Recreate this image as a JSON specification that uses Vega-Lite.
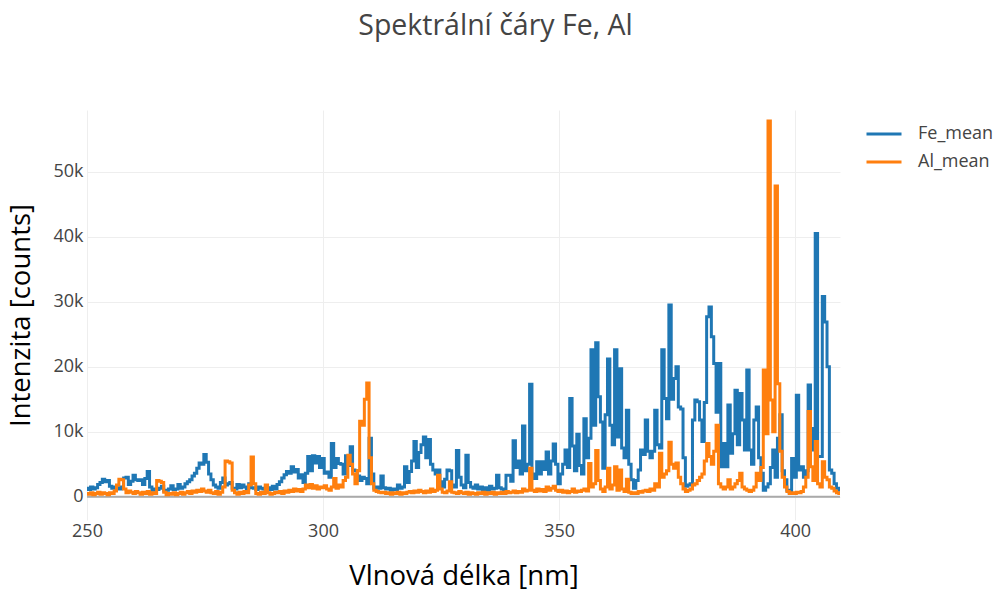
{
  "$schema": "https://vega.github.io/schema/vega-lite/v6.json",
  "autosize": {"type": "none"},
  "width": 753,
  "height": 410,
  "padding": {"left": 87, "top": 110, "right": 158, "bottom": 72},
  "background": "white",
  "title": {"text": "Spektrální čáry Fe, Al", "fontSize": 28.5, "fontWeight": "normal", "color": "#444444", "font": "Open Sans", "anchor": "middle", "frame": "group", "offset": 70, "dx": 32},
  "data": {"values": [
    {"w":250,"Fe_mean":1300,"Al_mean":500},{"w":250.5,"Fe_mean":1100,"Al_mean":400},{"w":251,"Fe_mean":1500,"Al_mean":600},{"w":251.5,"Fe_mean":1200,"Al_mean":300},
    {"w":252,"Fe_mean":1400,"Al_mean":500},{"w":252.5,"Fe_mean":1900,"Al_mean":700},{"w":253,"Fe_mean":2200,"Al_mean":400},{"w":253.5,"Fe_mean":2700,"Al_mean":600},
    {"w":254,"Fe_mean":2300,"Al_mean":500},{"w":254.5,"Fe_mean":2500,"Al_mean":300},{"w":255,"Fe_mean":1600,"Al_mean":600},{"w":255.5,"Fe_mean":1300,"Al_mean":500},
    {"w":256,"Fe_mean":1500,"Al_mean":900},{"w":256.5,"Fe_mean":1400,"Al_mean":1800},{"w":257,"Fe_mean":1200,"Al_mean":2700},{"w":257.5,"Fe_mean":1500,"Al_mean":2600},
    {"w":258,"Fe_mean":2900,"Al_mean":1200},{"w":258.5,"Fe_mean":3000,"Al_mean":600},{"w":259,"Fe_mean":1900,"Al_mean":900},{"w":259.5,"Fe_mean":2400,"Al_mean":700},
    {"w":260,"Fe_mean":3300,"Al_mean":500},{"w":260.5,"Fe_mean":2600,"Al_mean":800},{"w":261,"Fe_mean":2500,"Al_mean":600},{"w":261.5,"Fe_mean":2600,"Al_mean":400},
    {"w":262,"Fe_mean":1900,"Al_mean":700},{"w":262.5,"Fe_mean":2800,"Al_mean":500},{"w":263,"Fe_mean":3900,"Al_mean":800},{"w":263.5,"Fe_mean":1500,"Al_mean":400},
    {"w":264,"Fe_mean":1000,"Al_mean":600},{"w":264.5,"Fe_mean":1200,"Al_mean":500},{"w":265,"Fe_mean":1100,"Al_mean":2500},{"w":265.5,"Fe_mean":1300,"Al_mean":2400},
    {"w":266,"Fe_mean":1600,"Al_mean":2200},{"w":266.5,"Fe_mean":900,"Al_mean":700},{"w":267,"Fe_mean":1000,"Al_mean":300},{"w":267.5,"Fe_mean":1200,"Al_mean":500},
    {"w":268,"Fe_mean":1700,"Al_mean":400},{"w":268.5,"Fe_mean":1100,"Al_mean":600},{"w":269,"Fe_mean":1200,"Al_mean":300},{"w":269.5,"Fe_mean":1900,"Al_mean":500},
    {"w":270,"Fe_mean":1300,"Al_mean":700},{"w":270.5,"Fe_mean":1500,"Al_mean":400},{"w":271,"Fe_mean":2000,"Al_mean":600},{"w":271.5,"Fe_mean":2300,"Al_mean":800},
    {"w":272,"Fe_mean":2600,"Al_mean":500},{"w":272.5,"Fe_mean":3200,"Al_mean":900},{"w":273,"Fe_mean":3600,"Al_mean":700},{"w":273.5,"Fe_mean":4400,"Al_mean":1000},
    {"w":274,"Fe_mean":5200,"Al_mean":800},{"w":274.5,"Fe_mean":5000,"Al_mean":1200},{"w":275,"Fe_mean":6500,"Al_mean":900},{"w":275.5,"Fe_mean":5300,"Al_mean":700},
    {"w":276,"Fe_mean":3500,"Al_mean":1000},{"w":276.5,"Fe_mean":2600,"Al_mean":600},{"w":277,"Fe_mean":1800,"Al_mean":500},{"w":277.5,"Fe_mean":1500,"Al_mean":800},
    {"w":278,"Fe_mean":1300,"Al_mean":400},{"w":278.5,"Fe_mean":2200,"Al_mean":700},{"w":279,"Fe_mean":2900,"Al_mean":1500},{"w":279.5,"Fe_mean":1800,"Al_mean":5500},
    {"w":280,"Fe_mean":2000,"Al_mean":5400},{"w":280.5,"Fe_mean":2200,"Al_mean":5200},{"w":281,"Fe_mean":1300,"Al_mean":1000},{"w":281.5,"Fe_mean":1200,"Al_mean":600},
    {"w":282,"Fe_mean":1900,"Al_mean":400},{"w":282.5,"Fe_mean":1400,"Al_mean":700},{"w":283,"Fe_mean":1800,"Al_mean":500},{"w":283.5,"Fe_mean":1500,"Al_mean":800},
    {"w":284,"Fe_mean":1200,"Al_mean":600},{"w":284.5,"Fe_mean":2000,"Al_mean":1800},{"w":285,"Fe_mean":1400,"Al_mean":6100},{"w":285.5,"Fe_mean":1300,"Al_mean":2000},
    {"w":286,"Fe_mean":1100,"Al_mean":500},{"w":286.5,"Fe_mean":1500,"Al_mean":400},{"w":287,"Fe_mean":1300,"Al_mean":700},{"w":287.5,"Fe_mean":1200,"Al_mean":500},
    {"w":288,"Fe_mean":1000,"Al_mean":1800},{"w":288.5,"Fe_mean":1400,"Al_mean":600},{"w":289,"Fe_mean":1100,"Al_mean":400},{"w":289.5,"Fe_mean":1600,"Al_mean":500},
    {"w":290,"Fe_mean":1200,"Al_mean":700},{"w":290.5,"Fe_mean":1900,"Al_mean":600},{"w":291,"Fe_mean":2300,"Al_mean":800},{"w":291.5,"Fe_mean":2900,"Al_mean":500},
    {"w":292,"Fe_mean":3400,"Al_mean":900},{"w":292.5,"Fe_mean":3900,"Al_mean":700},{"w":293,"Fe_mean":3600,"Al_mean":1000},{"w":293.5,"Fe_mean":4600,"Al_mean":800},
    {"w":294,"Fe_mean":3800,"Al_mean":1200},{"w":294.5,"Fe_mean":4200,"Al_mean":900},{"w":295,"Fe_mean":2900,"Al_mean":1100},{"w":295.5,"Fe_mean":3400,"Al_mean":800},
    {"w":296,"Fe_mean":2200,"Al_mean":1200},{"w":296.5,"Fe_mean":3600,"Al_mean":1800},{"w":297,"Fe_mean":6200,"Al_mean":1400},{"w":297.5,"Fe_mean":4000,"Al_mean":1900},
    {"w":298,"Fe_mean":6300,"Al_mean":1300},{"w":298.5,"Fe_mean":5200,"Al_mean":1700},{"w":299,"Fe_mean":6200,"Al_mean":1200},{"w":299.5,"Fe_mean":4500,"Al_mean":1500},
    {"w":300,"Fe_mean":5900,"Al_mean":1400},{"w":300.5,"Fe_mean":3600,"Al_mean":1700},{"w":301,"Fe_mean":3800,"Al_mean":1200},{"w":301.5,"Fe_mean":3000,"Al_mean":1000},
    {"w":302,"Fe_mean":8200,"Al_mean":1500},{"w":302.5,"Fe_mean":4500,"Al_mean":2800},{"w":303,"Fe_mean":5900,"Al_mean":1300},{"w":303.5,"Fe_mean":5100,"Al_mean":1800},
    {"w":304,"Fe_mean":5000,"Al_mean":1500},{"w":304.5,"Fe_mean":3500,"Al_mean":2500},{"w":305,"Fe_mean":6300,"Al_mean":3000},{"w":305.5,"Fe_mean":4800,"Al_mean":6400},
    {"w":306,"Fe_mean":7700,"Al_mean":5000},{"w":306.5,"Fe_mean":4100,"Al_mean":3500},{"w":307,"Fe_mean":4000,"Al_mean":2000},{"w":307.5,"Fe_mean":3200,"Al_mean":4000},
    {"w":308,"Fe_mean":2500,"Al_mean":11600},{"w":308.5,"Fe_mean":3000,"Al_mean":11000},{"w":309,"Fe_mean":2800,"Al_mean":15000},{"w":309.5,"Fe_mean":2000,"Al_mean":17500},
    {"w":310,"Fe_mean":9000,"Al_mean":6000},{"w":310.5,"Fe_mean":3500,"Al_mean":2000},{"w":311,"Fe_mean":1300,"Al_mean":1000},{"w":311.5,"Fe_mean":1500,"Al_mean":800},
    {"w":312,"Fe_mean":1300,"Al_mean":700},{"w":312.5,"Fe_mean":3200,"Al_mean":600},{"w":313,"Fe_mean":1400,"Al_mean":700},{"w":313.5,"Fe_mean":1200,"Al_mean":500},
    {"w":314,"Fe_mean":1300,"Al_mean":600},{"w":314.5,"Fe_mean":1000,"Al_mean":400},{"w":315,"Fe_mean":1200,"Al_mean":600},{"w":315.5,"Fe_mean":1100,"Al_mean":500},
    {"w":316,"Fe_mean":1800,"Al_mean":700},{"w":316.5,"Fe_mean":1300,"Al_mean":400},{"w":317,"Fe_mean":1500,"Al_mean":600},{"w":317.5,"Fe_mean":4600,"Al_mean":500},
    {"w":318,"Fe_mean":2200,"Al_mean":700},{"w":318.5,"Fe_mean":3900,"Al_mean":800},{"w":319,"Fe_mean":5500,"Al_mean":600},{"w":319.5,"Fe_mean":8500,"Al_mean":900},
    {"w":320,"Fe_mean":4500,"Al_mean":700},{"w":320.5,"Fe_mean":6800,"Al_mean":1000},{"w":321,"Fe_mean":8000,"Al_mean":800},{"w":321.5,"Fe_mean":9200,"Al_mean":600},
    {"w":322,"Fe_mean":6000,"Al_mean":900},{"w":322.5,"Fe_mean":8800,"Al_mean":700},{"w":323,"Fe_mean":5000,"Al_mean":1200},{"w":323.5,"Fe_mean":4100,"Al_mean":800},
    {"w":324,"Fe_mean":3500,"Al_mean":1000},{"w":324.5,"Fe_mean":4100,"Al_mean":3300},{"w":325,"Fe_mean":2300,"Al_mean":1200},{"w":325.5,"Fe_mean":1500,"Al_mean":700},
    {"w":326,"Fe_mean":2700,"Al_mean":600},{"w":326.5,"Fe_mean":4100,"Al_mean":900},{"w":327,"Fe_mean":4000,"Al_mean":2300},{"w":327.5,"Fe_mean":1800,"Al_mean":700},
    {"w":328,"Fe_mean":1500,"Al_mean":600},{"w":328.5,"Fe_mean":7100,"Al_mean":500},{"w":329,"Fe_mean":3000,"Al_mean":800},{"w":329.5,"Fe_mean":1800,"Al_mean":600},
    {"w":330,"Fe_mean":1400,"Al_mean":500},{"w":330.5,"Fe_mean":6400,"Al_mean":700},{"w":331,"Fe_mean":2200,"Al_mean":400},{"w":331.5,"Fe_mean":1500,"Al_mean":600},
    {"w":332,"Fe_mean":1300,"Al_mean":500},{"w":332.5,"Fe_mean":1800,"Al_mean":400},{"w":333,"Fe_mean":1200,"Al_mean":600},{"w":333.5,"Fe_mean":1500,"Al_mean":500},
    {"w":334,"Fe_mean":1100,"Al_mean":700},{"w":334.5,"Fe_mean":1400,"Al_mean":400},{"w":335,"Fe_mean":1000,"Al_mean":600},{"w":335.5,"Fe_mean":1600,"Al_mean":500},
    {"w":336,"Fe_mean":1200,"Al_mean":700},{"w":336.5,"Fe_mean":1300,"Al_mean":400},{"w":337,"Fe_mean":3300,"Al_mean":600},{"w":337.5,"Fe_mean":1400,"Al_mean":500},
    {"w":338,"Fe_mean":1200,"Al_mean":700},{"w":338.5,"Fe_mean":1000,"Al_mean":500},{"w":339,"Fe_mean":3300,"Al_mean":800},{"w":339.5,"Fe_mean":3300,"Al_mean":600},
    {"w":340,"Fe_mean":2400,"Al_mean":700},{"w":340.5,"Fe_mean":8600,"Al_mean":900},{"w":341,"Fe_mean":4500,"Al_mean":600},{"w":341.5,"Fe_mean":5500,"Al_mean":800},
    {"w":342,"Fe_mean":3500,"Al_mean":700},{"w":342.5,"Fe_mean":10900,"Al_mean":1200},{"w":343,"Fe_mean":4000,"Al_mean":900},{"w":343.5,"Fe_mean":5000,"Al_mean":1000},
    {"w":344,"Fe_mean":17300,"Al_mean":4400},{"w":344.5,"Fe_mean":3500,"Al_mean":1000},{"w":345,"Fe_mean":2800,"Al_mean":800},{"w":345.5,"Fe_mean":5400,"Al_mean":1200},
    {"w":346,"Fe_mean":3500,"Al_mean":900},{"w":346.5,"Fe_mean":5400,"Al_mean":1100},{"w":347,"Fe_mean":4200,"Al_mean":800},{"w":347.5,"Fe_mean":6900,"Al_mean":1500},
    {"w":348,"Fe_mean":3500,"Al_mean":1000},{"w":348.5,"Fe_mean":5500,"Al_mean":1300},{"w":349,"Fe_mean":8100,"Al_mean":1600},{"w":349.5,"Fe_mean":5000,"Al_mean":1000},
    {"w":350,"Fe_mean":2000,"Al_mean":800},{"w":350.5,"Fe_mean":3500,"Al_mean":1000},{"w":351,"Fe_mean":5000,"Al_mean":700},{"w":351.5,"Fe_mean":7200,"Al_mean":900},
    {"w":352,"Fe_mean":4500,"Al_mean":600},{"w":352.5,"Fe_mean":15100,"Al_mean":800},{"w":353,"Fe_mean":7800,"Al_mean":1200},{"w":353.5,"Fe_mean":4000,"Al_mean":700},
    {"w":354,"Fe_mean":9600,"Al_mean":900},{"w":354.5,"Fe_mean":4800,"Al_mean":800},{"w":355,"Fe_mean":3500,"Al_mean":1000},{"w":355.5,"Fe_mean":12000,"Al_mean":1200},
    {"w":356,"Fe_mean":6000,"Al_mean":900},{"w":356.5,"Fe_mean":9000,"Al_mean":5100},{"w":357,"Fe_mean":22600,"Al_mean":1500},{"w":357.5,"Fe_mean":11000,"Al_mean":2000},
    {"w":358,"Fe_mean":23700,"Al_mean":7100},{"w":358.5,"Fe_mean":15400,"Al_mean":2500},{"w":359,"Fe_mean":11500,"Al_mean":1200},{"w":359.5,"Fe_mean":4400,"Al_mean":800},
    {"w":360,"Fe_mean":12600,"Al_mean":1500},{"w":360.5,"Fe_mean":21200,"Al_mean":4400},{"w":361,"Fe_mean":11000,"Al_mean":1200},{"w":361.5,"Fe_mean":8000,"Al_mean":1800},
    {"w":362,"Fe_mean":22600,"Al_mean":4600},{"w":362.5,"Fe_mean":9200,"Al_mean":1000},{"w":363,"Fe_mean":19700,"Al_mean":4100},{"w":363.5,"Fe_mean":7500,"Al_mean":1200},
    {"w":364,"Fe_mean":6000,"Al_mean":800},{"w":364.5,"Fe_mean":13300,"Al_mean":2700},{"w":365,"Fe_mean":5000,"Al_mean":700},{"w":365.5,"Fe_mean":2600,"Al_mean":500},
    {"w":366,"Fe_mean":1300,"Al_mean":600},{"w":366.5,"Fe_mean":2500,"Al_mean":500},{"w":367,"Fe_mean":4100,"Al_mean":800},{"w":367.5,"Fe_mean":7200,"Al_mean":700},
    {"w":368,"Fe_mean":6500,"Al_mean":900},{"w":368.5,"Fe_mean":11800,"Al_mean":1000},{"w":369,"Fe_mean":7000,"Al_mean":800},{"w":369.5,"Fe_mean":6000,"Al_mean":1200},
    {"w":370,"Fe_mean":7000,"Al_mean":1000},{"w":370.5,"Fe_mean":13300,"Al_mean":2000},{"w":371,"Fe_mean":8000,"Al_mean":1500},{"w":371.5,"Fe_mean":7500,"Al_mean":6700},
    {"w":372,"Fe_mean":22600,"Al_mean":3000},{"w":372.5,"Fe_mean":15100,"Al_mean":3500},{"w":373,"Fe_mean":12000,"Al_mean":4000},{"w":373.5,"Fe_mean":29500,"Al_mean":8400},
    {"w":374,"Fe_mean":15000,"Al_mean":5000},{"w":374.5,"Fe_mean":18200,"Al_mean":4400},{"w":375,"Fe_mean":20000,"Al_mean":5200},{"w":375.5,"Fe_mean":13800,"Al_mean":3000},
    {"w":376,"Fe_mean":13500,"Al_mean":2000},{"w":376.5,"Fe_mean":6000,"Al_mean":1200},{"w":377,"Fe_mean":1600,"Al_mean":800},{"w":377.5,"Fe_mean":1800,"Al_mean":1000},
    {"w":378,"Fe_mean":2000,"Al_mean":1200},{"w":378.5,"Fe_mean":11800,"Al_mean":1800},{"w":379,"Fe_mean":14900,"Al_mean":2000},{"w":379.5,"Fe_mean":14600,"Al_mean":2500},
    {"w":380,"Fe_mean":11800,"Al_mean":3000},{"w":380.5,"Fe_mean":8500,"Al_mean":3500},{"w":381,"Fe_mean":14500,"Al_mean":5500},{"w":381.5,"Fe_mean":27700,"Al_mean":8200},
    {"w":382,"Fe_mean":29200,"Al_mean":6200},{"w":382.5,"Fe_mean":24600,"Al_mean":5000},{"w":383,"Fe_mean":20500,"Al_mean":7000},{"w":383.5,"Fe_mean":13000,"Al_mean":11000},
    {"w":384,"Fe_mean":20500,"Al_mean":2000},{"w":384.5,"Fe_mean":4600,"Al_mean":1500},{"w":385,"Fe_mean":8200,"Al_mean":1200},{"w":385.5,"Fe_mean":4600,"Al_mean":1500},
    {"w":386,"Fe_mean":14100,"Al_mean":2600},{"w":386.5,"Fe_mean":6700,"Al_mean":1200},{"w":387,"Fe_mean":9700,"Al_mean":1500},{"w":387.5,"Fe_mean":16400,"Al_mean":2000},
    {"w":388,"Fe_mean":8000,"Al_mean":2500},{"w":388.5,"Fe_mean":15900,"Al_mean":3600},{"w":389,"Fe_mean":11800,"Al_mean":1500},{"w":389.5,"Fe_mean":7200,"Al_mean":1200},
    {"w":390,"Fe_mean":19500,"Al_mean":1000},{"w":390.5,"Fe_mean":7200,"Al_mean":800},{"w":391,"Fe_mean":5000,"Al_mean":1000},{"w":391.5,"Fe_mean":11800,"Al_mean":1500},
    {"w":392,"Fe_mean":13800,"Al_mean":3600},{"w":392.5,"Fe_mean":6000,"Al_mean":2500},{"w":393,"Fe_mean":3600,"Al_mean":4500},{"w":393.5,"Fe_mean":1000,"Al_mean":19500},
    {"w":394,"Fe_mean":1500,"Al_mean":9700},{"w":394.5,"Fe_mean":2000,"Al_mean":57800},{"w":395,"Fe_mean":4500,"Al_mean":14900},{"w":395.5,"Fe_mean":7200,"Al_mean":10000},
    {"w":396,"Fe_mean":3000,"Al_mean":47800},{"w":396.5,"Fe_mean":9000,"Al_mean":17400},{"w":397,"Fe_mean":12600,"Al_mean":7000},{"w":397.5,"Fe_mean":4000,"Al_mean":3000},
    {"w":398,"Fe_mean":2600,"Al_mean":1500},{"w":398.5,"Fe_mean":1000,"Al_mean":800},{"w":399,"Fe_mean":600,"Al_mean":500},{"w":399.5,"Fe_mean":5900,"Al_mean":600},
    {"w":400,"Fe_mean":3000,"Al_mean":500},{"w":400.5,"Fe_mean":15600,"Al_mean":700},{"w":401,"Fe_mean":4100,"Al_mean":600},{"w":401.5,"Fe_mean":4600,"Al_mean":800},
    {"w":402,"Fe_mean":3000,"Al_mean":1500},{"w":402.5,"Fe_mean":4000,"Al_mean":3000},{"w":403,"Fe_mean":17200,"Al_mean":13100},{"w":403.5,"Fe_mean":10500,"Al_mean":4600},
    {"w":404,"Fe_mean":7200,"Al_mean":2500},{"w":404.5,"Fe_mean":40500,"Al_mean":8500},{"w":405,"Fe_mean":6200,"Al_mean":2000},{"w":405.5,"Fe_mean":6200,"Al_mean":1500},
    {"w":406,"Fe_mean":30800,"Al_mean":5400},{"w":406.5,"Fe_mean":26900,"Al_mean":3000},{"w":407,"Fe_mean":20000,"Al_mean":2600},{"w":407.5,"Fe_mean":4100,"Al_mean":1500},
    {"w":408,"Fe_mean":3600,"Al_mean":1300},{"w":408.5,"Fe_mean":2000,"Al_mean":900},{"w":409,"Fe_mean":1300,"Al_mean":600},{"w":409.5,"Fe_mean":1000,"Al_mean":500}
  ]},
  "layer": [
    {
      "data": {"values": [{"z": 0}]},
      "mark": {"type": "rule", "color": "#aaaaaa", "strokeWidth": 2},
      "encoding": {"y": {"field": "z", "type": "quantitative", "title": "Intenzita [counts]"}}
    },
    {
      "mark": {"type": "line", "strokeWidth": 3, "clip": true, "interpolate": "step"},
      "encoding": {
        "x": {"field": "w", "type": "quantitative", "title": "Vlnová délka [nm]", "scale": {"domain": [250, 409.5], "nice": false, "zero": false}, "axis": {"values": [250, 300, 350, 400], "labelFlush": false}},
        "y": {"field": "Fe_mean", "type": "quantitative", "title": "Intenzita [counts]", "scale": {"domain": [-3580, 59500], "nice": false, "zero": false}, "axis": {"values": [0, 10000, 20000, 30000, 40000, 50000], "labelExpr": "datum.value === 0 ? '0' : format(datum.value / 1000, 'd') + 'k'"}},
        "color": {"datum": "Fe_mean", "scale": {"domain": ["Fe_mean", "Al_mean"], "range": ["#1f77b4", "#ff7f0e"]}, "legend": {"title": null}}
      }
    },
    {
      "mark": {"type": "line", "strokeWidth": 3, "clip": true, "interpolate": "step"},
      "encoding": {
        "x": {"field": "w", "type": "quantitative", "title": "Vlnová délka [nm]"},
        "y": {"field": "Al_mean", "type": "quantitative", "title": "Intenzita [counts]"},
        "color": {"datum": "Al_mean"}
      }
    }
  ],
  "config": {
    "font": "Open Sans",
    "view": {"stroke": null},
    "axis": {"domain": false, "ticks": false, "gridColor": "#eeeeee", "gridWidth": 1, "labelColor": "#444444", "labelFontSize": 18, "labelFont": "Open Sans", "titleFont": "Open Sans", "titleFontSize": 27.5, "titleFontWeight": "normal", "titleColor": "#000000"},
    "axisX": {"labelPadding": 2, "titlePadding": 22},
    "axisY": {"labelPadding": 4, "titlePadding": 17},
    "legend": {"orient": "none", "legendX": 778, "legendY": 5, "symbolType": "stroke", "symbolSize": 1225, "symbolStrokeWidth": 3, "labelFontSize": 18, "labelColor": "#444444", "labelFont": "Open Sans", "labelOffset": 15, "rowPadding": 0, "padding": 0}
  }
}
